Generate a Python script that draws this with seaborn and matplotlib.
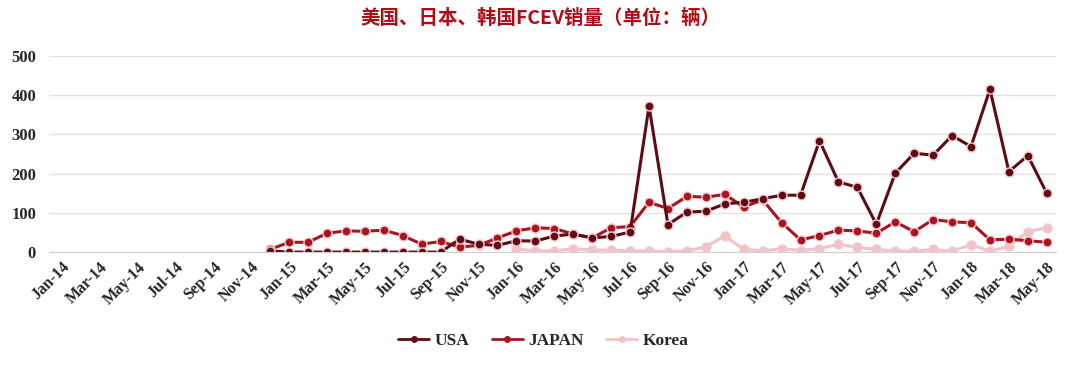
import pandas as pd
import matplotlib.pyplot as plt
import seaborn as sns
from matplotlib.lines import Line2D

# months Jan-14 .. May-18
months = []
for yr in range(14, 19):
    for m in ['Jan', 'Feb', 'Mar', 'Apr', 'May', 'Jun', 'Jul', 'Aug', 'Sep', 'Oct', 'Nov', 'Dec']:
        months.append(f'{m}-{yr}')
months = months[:months.index('May-18') + 1]

# USA and JAPAN start Dec-14, Korea starts Jan-16
usa_start = 'Dec-14'
usa = [3,
       0, 0, 0, 0, 0, 0, 0, 0, 0, 33, 20, 17,
       29, 28, 41, 46, 36, 40, 51, 372, 70, 102, 104, 123,
       127, 136, 145, 145, 284, 179, 165, 71, 201, 252, 247, 297,
       269, 415, 205, 246, 150]
japan_start = 'Dec-14'
japan = [7,
         25, 25, 48, 54, 53, 56, 42, 20, 27, 13, 17, 36,
         54, 62, 60, 46, 36, 62, 65, 127, 111, 142, 140, 147,
         115, 133, 75, 31, 42, 56, 54, 48, 77, 52, 83, 77,
         75, 31, 33, 29, 25]
korea_start = 'Jan-16'
korea = [8, 3, 3, 9, 5, 5, 3, 3, 1, 3, 14, 41,
         7, 3, 9, 4, 9, 20, 12, 7, 3, 2, 7, 2,
         19, 2, 15, 52, 62]

series = [('USA', usa_start, usa), ('JAPAN', japan_start, japan), ('Korea', korea_start, korea)]
colors = {'USA': '#5e0b16', 'JAPAN': '#a8141f', 'Korea': '#efc4c9'}

rows = []
for name, start, vals in series:
    i0 = months.index(start)
    for k, v in enumerate(vals):
        rows.append({'idx': i0 + k, 'sales': v, 'country': name})
df = pd.DataFrame(rows)

sns.set_style('white')
serif = ['Liberation Serif', 'DejaVu Serif']
plt.rcParams['font.family'] = serif

fig = plt.figure(figsize=(10.8, 3.68), dpi=100)
ax = fig.add_axes([0.045, 0.315, 0.933, 0.533])

for name, _, _ in reversed(series):
    sub = df[df['country'] == name]
    sns.lineplot(data=sub, x='idx', y='sales', ax=ax, color=colors[name], linewidth=2.2,
                 marker='o', markersize=6.5, markeredgecolor='#f3c9cd', markeredgewidth=1.0,
                 legend=False)

ax.set_xlim(-0.7, 52.5)
ax.set_ylim(0, 500)
ax.set_yticks(range(0, 501, 100))
ax.yaxis.grid(True, color='#e2e2e2', linewidth=1)
ax.set_axisbelow(True)
ax.set_xticks(range(0, len(months), 2))
ax.set_xticklabels(months[::2], rotation=45, ha='right', rotation_mode='anchor',
                   fontsize=11.5, fontweight='bold')
ax.set_xticks([i + 1.5 for i in range(0, len(months) - 1, 2)], minor=True)
ax.tick_params(axis='x', which='major', length=0, pad=5)
ax.tick_params(axis='x', which='minor', length=4, color='#d0d0d0', direction='out')
ax.tick_params(axis='y', length=0, labelsize=12, pad=9)
for lbl in ax.get_yticklabels():
    lbl.set_fontweight('bold')
ax.set_xlabel('')
ax.set_ylabel('')
for s in ['top', 'right', 'left']:
    ax.spines[s].set_visible(False)
ax.spines['bottom'].set_color('#d0d0d0')

fig.text(0.5, 0.95, '美国、日本、韩国FCEV销量（单位：辆）', ha='center', va='center',
         fontsize=14, fontweight='bold', color='#b00c18',
         family=['Noto Sans CJK SC', 'DejaVu Sans'])

handles = [Line2D([0], [0], color=colors[n], linewidth=2, marker='o', markersize=4,
                  markeredgecolor=colors[n]) for n, _, _ in series]
fig.legend(handles, [n for n, _, _ in series], loc='center', bbox_to_anchor=(0.503, 0.073),
           ncol=3, frameon=False, prop={'family': serif, 'weight': 'bold', 'size': 12.5},
           handlelength=1.8, columnspacing=1.3, handletextpad=0.3)

fig.savefig('out.png', dpi=100)
